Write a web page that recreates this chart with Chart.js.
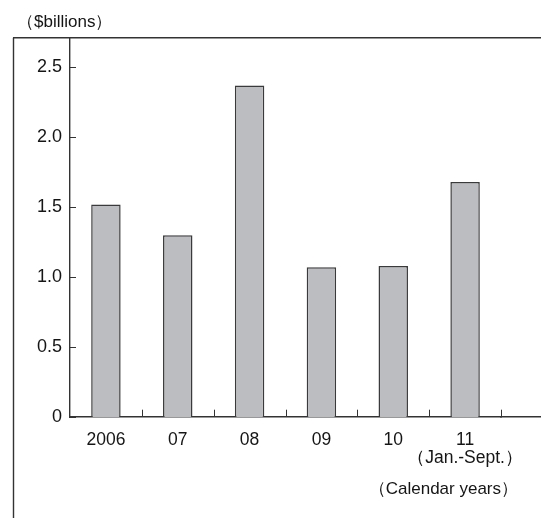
<!DOCTYPE html>
<html>
<head>
<meta charset="utf-8">
<script src="https://cdn.jsdelivr.net/npm/chart.js@4/dist/chart.umd.min.js"></script>
<style>
    body { margin: 0; background: #fff; }
    #wrap { width: 541px; height: 518px; }
</style>
</head>
<body>
<div id="wrap"><canvas id="myChart" width="541" height="518"></canvas></div>
<script>
    // data
    const years = ['2006', '07', '08', '09', '10', ['11', '（Jan.-Sept.）']];
    const amounts = [1.52, 1.30, 2.37, 1.07, 1.08, 1.68];
    const yTicks = [0, 0.5, 1.0, 1.5, 2.0, 2.5];
    const unitLabel = '（$billions）';
    const xTitle = '（Calendar years）';

    const ink = '#333333';
    const textInk = '#151515';
    const axisW = 1.4;
    const fontName = '"Liberation Sans", Arial, sans-serif';

    // same snapping as chart.js uses for its axis border
    function snap(p, w) {
        return Math.round(p - w / 2) + w / 2;
    }

    // frame, small inside tick marks and the loose texts
    const framePlugin = {
        id: 'frame',
        afterDraw(chart) {
            const ctx = chart.ctx;
            const area = chart.chartArea;
            const x = chart.scales.x;
            const y = chart.scales.y;
            const W = chart.width, H = chart.height;
            const base = snap(area.bottom, axisW);
            const top = snap(area.top, axisW);
            ctx.save();
            ctx.strokeStyle = ink;
            ctx.lineWidth = axisW;
            ctx.beginPath();
            ctx.moveTo(13.5, top);
            ctx.lineTo(13.5, H);
            ctx.moveTo(13, top);
            ctx.lineTo(W, top);
            ctx.moveTo(area.right - 1, base);
            ctx.lineTo(W, base);
            ctx.stroke();

            ctx.lineWidth = 1;
            ctx.beginPath();
            yTicks.forEach(v => {
                const py = Math.round(y.getPixelForValue(v)) + 0.5;
                ctx.moveTo(area.left, py);
                ctx.lineTo(area.left + 6, py);
            });
            const step = x.getPixelForValue(1) - x.getPixelForValue(0);
            for (let i = 0; i < years.length; i++) {
                const px = Math.round(x.getPixelForValue(i) + step / 2) + 0.5;
                ctx.moveTo(px, base);
                ctx.lineTo(px, base - 7);
            }
            ctx.stroke();

            ctx.fillStyle = textInk;
            ctx.font = '17px ' + fontName;
            ctx.textBaseline = 'middle';
            ctx.textAlign = 'left';
            ctx.fillText(unitLabel, 17, 22);
            ctx.textAlign = 'right';
            ctx.fillText(xTitle, 518, 489);
            ctx.restore();
        }
    };

    const ctx = document.getElementById('myChart');
    new Chart(ctx, {
        type: 'bar',
        data: {
            labels: years,
            datasets: [{
                data: amounts,
                backgroundColor: '#bcbdc1',
                borderColor: '#3a3a3a',
                borderWidth: 1.5,
                barPercentage: 0.41,
                categoryPercentage: 1.0
            }]
        },
        options: {
            responsive: false,
            animation: false,
            layout: { padding: { top: 38, left: 0, right: 40, bottom: 0 } },
            plugins: {
                legend: { display: false },
                tooltip: { enabled: false }
            },
            scales: {
                x: {
                    grid: { display: false, drawTicks: false },
                    border: { display: true, color: ink, width: axisW },
                    ticks: {
                        color: textInk,
                        padding: 14,
                        maxRotation: 0,
                        autoSkip: false,
                        font: { family: fontName, size: 17.5, lineHeight: 1.05 }
                    },
                    afterFit(scale) { scale.height = 101; }
                },
                y: {
                    min: 0,
                    max: 2.71,
                    grid: { display: false, drawTicks: false },
                    border: { display: true, color: ink, width: axisW },
                    afterBuildTicks(scale) {
                        scale.ticks = yTicks.map(v => ({ value: v }));
                    },
                    ticks: {
                        color: textInk,
                        padding: 8,
                        font: { family: fontName, size: 18 },
                        callback: v => (v === 0 ? '0' : v.toFixed(1))
                    },
                    afterFit(scale) { scale.width = 70; }
                }
            }
        },
        plugins: [framePlugin]
    });
</script>
</body>
</html>
